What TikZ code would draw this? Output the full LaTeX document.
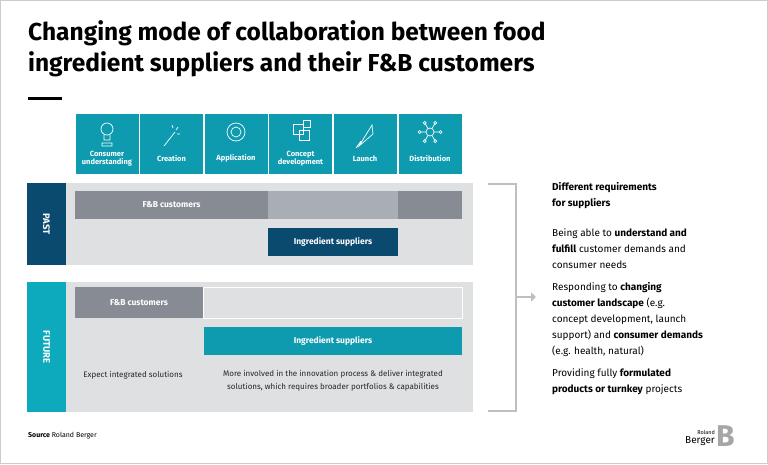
\documentclass[tikz,border=0pt]{standalone}
\usepackage{fontspec}
\setmainfont{Fira Sans}
\usetikzlibrary{arrows.meta}
\definecolor{rbteal}{HTML}{0E9BB0}
\definecolor{rbnavy}{HTML}{0B4A6F}
\definecolor{rbgray}{HTML}{878C94}
\definecolor{rblight}{HTML}{A9AEB4}
\definecolor{rbpanel}{HTML}{DFE0E2}
\tikzstyle{phase} = [rectangle, minimum width=64pt, minimum height=61pt, draw=white, line width=0.8pt, fill=rbteal, text=white, font=\fontsize{7.5}{8.5}\selectfont\bfseries, align=center, inner sep=0pt]
\tikzstyle{bar} = [rectangle, minimum height=28pt, text=white, font=\fontsize{8.5}{10}\selectfont\bfseries, inner sep=0pt]
\tikzstyle{strip} = [rectangle, minimum height=39pt, text=white, font=\fontsize{9.5}{11}\selectfont\bfseries, inner sep=0pt]
\tikzstyle{note} = [font=\fontsize{8}{13}\selectfont, align=center, text=black!85]
\tikzstyle{req} = [anchor=north west, align=left, font=\fontsize{10}{16}\selectfont, inner sep=0pt]
\tikzstyle{icon} = [white, line width=0.7pt]
\begin{document}
\begin{tikzpicture}[x=1pt, y=-1pt]
        \useasboundingbox (0,0) rectangle (768,464);
        \draw [black!20] (0.5,0.5) rectangle (767.5,463.5);
        % title
        \node (title) [anchor=north west, inner sep=0pt, align=left, font=\fontsize{24.5}{31}\selectfont\bfseries] at (28,20) {Changing mode of collaboration between food\\ingredient suppliers and their F\&B customers};
        \fill (28,97) rectangle (62,100);
        % phases
        \node (p1) [phase] at (107,144) {\\[26pt]Consumer\\understanding};
        \node (p2) [phase] at (171.5,144) {\\[26pt]Creation};
        \node (p3) [phase] at (236,144) {\\[26pt]Application};
        \node (p4) [phase] at (300.5,144) {\\[26pt]Concept\\development};
        \node (p5) [phase] at (365,144) {\\[26pt]Launch};
        \node (p6) [phase] at (430,144) {\\[26pt]Distribution};
        % icons
        \draw [icon] (107,129) circle (6pt) (104,135) -- (104,140) -- (110,140) -- (110,135) (102,143) rectangle (112,146);
        \draw [icon] (164,146) -- (175,132) (172,125) -- (173,128) (178,127) -- (176,130) (180,134) -- (177,134);
        \draw [icon] (236,132) circle (5pt) (236,132) circle (9pt);
        \draw [icon] (293,124) rectangle (303,134) (299,130) rectangle (309,140) (303,120) rectangle (310,127);
        \draw [icon] (359,146) -- (372,125) -- (373,134) -- cycle (356,148) -- (361,141);
        \draw [icon] (430,132) circle (4pt);
        \foreach \a in {0,60,...,300}
          \draw [icon] (430,132) ++(\a:4pt) -- ++(\a:5pt) ++(\a:1.5pt) circle (1.5pt);
        % past
        \fill [rbpanel] (27,183) rectangle (473,265);
        \node (past) [strip, fill=rbnavy, minimum width=82pt, rotate=-90] at (46.5,224) {PAST};
        \node (pastcust) [bar, fill=rbgray, minimum width=193pt] at (171.5,205) {F\&B customers};
        \node (pastgap) [bar, fill=rblight, minimum width=130pt] at (333,205) {};
        \node (pastend) [bar, fill=rbgray, minimum width=64pt] at (430,205) {};
        \node (pastsup) [bar, fill=rbnavy, minimum width=130pt] at (333,242) {Ingredient suppliers};
        % future
        \fill [rbpanel] (27,282) rectangle (473,412);
        \node (future) [strip, fill=rbteal!85!cyan, minimum width=130pt, rotate=-90] at (46.5,347) {FUTURE};
        \draw [white, line width=0.8pt] (203,287) rectangle (462,318);
        \node (futcust) [bar, fill=rbgray, minimum width=128pt, minimum height=31pt] at (139,302.5) {F\&B customers};
        \node (futsup) [bar, fill=rbteal, minimum width=258pt] at (333,341) {Ingredient suppliers};
        \node (futnote1) [note] at (133,375) {Expect integrated solutions};
        \node (futnote2) [note] at (333,381) {More involved in the innovation process \& deliver integrated\\solutions, which requires broader portfolios \& capabilities};
        % bracket
        \coordinate (brtop) at (488,184);
        \coordinate (brbot) at (488,411);
        \coordinate (brmid) at (516,297);
        \coordinate (brtip) at (536,297);
        \draw [black!25, line width=2.5pt] (brtop) -- (516,184) -- (516,411) -- (brbot);
        \draw [black!25, line width=2.5pt, -{Triangle[length=5pt, width=9pt]}] (brmid) -- (brtip);
        % requirements
        \node (reqhead) [req, font=\fontsize{10}{16}\selectfont\bfseries] at (552,182) {Different requirements\\for suppliers};
        \node (req1) [req] at (552,228) {Being able to \textbf{understand and}\\\textbf{fulfill} customer demands and\\consumer needs};
        \node (req2) [req] at (552,282) {Responding to \textbf{changing}\\\textbf{customer landscape} (e.g.\\concept development, launch\\support) and \textbf{consumer demands}\\(e.g. health, natural)};
        \node (req3) [req] at (552,368) {Providing fully \textbf{formulated}\\\textbf{products or turnkey} projects};
        % footer
        \node (source) [anchor=west, inner sep=0pt, font=\fontsize{7}{8}\selectfont] at (28,436) {\textbf{Source} Roland Berger};
        \node (logo) [anchor=east, align=right, inner sep=0pt, font=\fontsize{10}{9}\selectfont] at (715,438) {{\fontsize{5.5}{6}\selectfont Roland}\\Berger};
        \node (logob) [anchor=west, inner sep=0pt, text=black!35, font=\fontsize{30}{30}\selectfont\bfseries] at (716,436) {B};
\end{tikzpicture}
\end{document}
